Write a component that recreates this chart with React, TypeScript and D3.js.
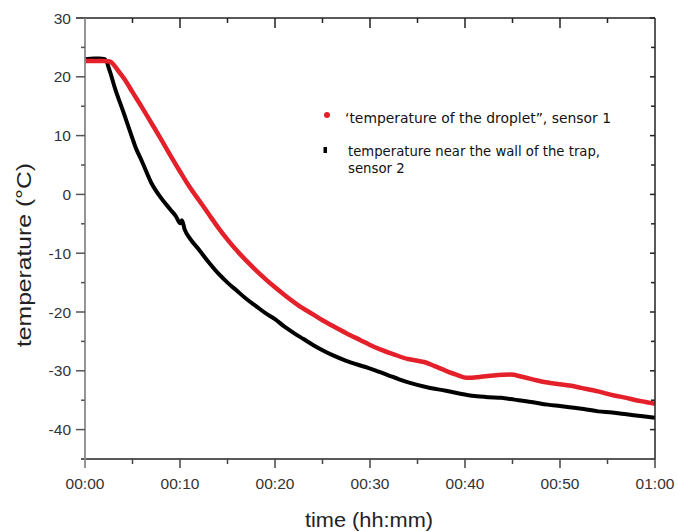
import React from "react";
import * as d3 from "d3";

// time in minutes, temperature in °C
const sensor1Time = [0, 1, 2, 2.6, 3, 3.5, 4.2, 5, 6, 7, 8, 9, 10, 11, 12, 13, 14, 15, 16, 17, 18, 19, 20, 21, 22.5, 24, 25, 26, 27.5, 29, 30, 31, 32.5, 34, 35, 35.7, 36.8, 38, 39, 40.3, 41.7, 43, 44.8, 46, 47.5, 48.7, 50, 51, 52.2, 54, 55.7, 57, 58, 59, 60];
const sensor1Temp = [22.7, 22.7, 22.7, 22.6, 22.1, 21.0, 19.5, 17.4, 14.8, 12.1, 9.4, 6.6, 3.9, 1.3, -1.0, -3.3, -5.6, -7.7, -9.6, -11.3, -12.9, -14.4, -15.8, -17.1, -18.9, -20.4, -21.4, -22.3, -23.6, -24.8, -25.6, -26.3, -27.2, -28.0, -28.3, -28.5, -29.2, -30.0, -30.6, -31.2, -31.0, -30.8, -30.65, -31.0, -31.6, -32.0, -32.3, -32.5, -32.9, -33.5, -34.2, -34.6, -35.0, -35.3, -35.6];

const sensor2Time = [0, 1, 1.5, 2.1, 2.6, 3.2, 4, 5, 5.3, 6, 7, 8, 9, 9.6, 10.0, 10.2, 10.5, 11, 12, 13, 14, 15, 16, 17, 18, 19, 20, 21, 22, 23, 24, 25, 26, 27.5, 29, 29.8, 31, 32, 33, 34.3, 36, 38, 39.5, 41, 42.5, 43.8, 45.2, 47, 48.7, 50, 51, 52.5, 54, 55.5, 57, 58.5, 60];
const sensor2Temp = [23.0, 23.1, 23.1, 23.0, 21.0, 17.8, 14.2, 9.5, 8.1, 5.6, 1.9, -0.6, -2.6, -3.8, -4.9, -4.4, -6.0, -7.4, -9.4, -11.5, -13.4, -15.0, -16.4, -17.8, -19.0, -20.2, -21.2, -22.5, -23.6, -24.6, -25.6, -26.5, -27.3, -28.3, -29.1, -29.5, -30.2, -30.8, -31.4, -32.1, -32.8, -33.4, -33.9, -34.3, -34.5, -34.6, -34.9, -35.3, -35.75, -36.0, -36.2, -36.5, -36.9, -37.1, -37.4, -37.7, -38.0];

const xTickValues = [0, 10, 20, 30, 40, 50, 60];
const xTickLabels = ["00:00", "00:10", "00:20", "00:30", "00:40", "00:50", "01:00"];
const xMinorTicks = [5, 15, 25, 35, 45, 55];
const yTickValues = [30, 20, 10, 0, -10, -20, -30, -40];
const yMinorTicks = [25, 15, 5, -5, -15, -25, -35];

const legendLabels = ["\u2018temperature of the droplet\u201d, sensor 1", "temperature near the wall of the trap,", "sensor 2"];

const W = 678;
const H = 532;
const left = 85;
const right = 655;
const top = 18;
const bottom = 459;

export default function App() {
  const x = d3.scaleLinear().domain([0, 60]).range([left, right]);
  const y = d3.scaleLinear().domain([-45, 30]).range([bottom, top]);

  const s1 = sensor1Time.map((t, i) => [t, sensor1Temp[i]] as [number, number]);
  const s2 = sensor2Time.map((t, i) => [t, sensor2Temp[i]] as [number, number]);
  const line = d3
    .line<[number, number]>()
    .x((d) => x(d[0]))
    .y((d) => y(d[1]))
    .curve(d3.curveMonotoneX);

  const labelColor = "#333";
  const font = "'Liberation Sans', Arial, sans-serif";
  const legendFont = "'DejaVu Sans', Verdana, sans-serif";

  return (
    <svg width={W} height={H} style={{ position: "absolute", left: 0, top: 0, background: "#fff" }}>
      <rect x={0} y={0} width={W} height={H} fill="#fff" />
      {/* data */}
      <path d={line(s2) || ""} fill="none" stroke="#000" strokeWidth={4} strokeLinejoin="round" />
      <path d={line(s1) || ""} fill="none" stroke="#e4202a" strokeWidth={4.5} strokeLinejoin="round" />

      {/* frame */}
      <line x1={left - 9} x2={right} y1={top} y2={top} stroke="#222" strokeWidth={1.5} />
      <line x1={right} x2={right} y1={top} y2={bottom} stroke="#222" strokeWidth={1.5} />
      <line x1={left - 4} x2={right} y1={bottom} y2={bottom} stroke="#222" strokeWidth={1.5} />
      <line x1={left} x2={left} y1={top} y2={bottom + 9} stroke="#8a8a8a" strokeWidth={1.8} />

      {/* y ticks */}
      {yTickValues.map((v) => (
        <g key={"y" + v}>
          <line x1={left - 9} x2={left} y1={y(v)} y2={y(v)} stroke="#555" strokeWidth={1.5} />
          <line x1={right - 5} x2={right} y1={y(v)} y2={y(v)} stroke="#222" strokeWidth={1.5} />
          <text x={71} y={y(v) + 5.5} textAnchor="end" fontSize={15.5} fill={labelColor} fontFamily={font}>
            {v}
          </text>
        </g>
      ))}
      {yMinorTicks.map((v) => (
        <g key={"ym" + v}>
          <line x1={left - 4} x2={left} y1={y(v)} y2={y(v)} stroke="#555" strokeWidth={1.5} />
          <line x1={right - 4} x2={right} y1={y(v)} y2={y(v)} stroke="#222" strokeWidth={1.5} />
        </g>
      ))}

      {/* x ticks */}
      {xTickValues.map((v, i) => (
        <g key={"x" + v}>
          {v !== 0 && <line x1={x(v)} x2={x(v)} y1={bottom} y2={bottom + 9} stroke="#444" strokeWidth={1.5} />}
          {v !== 0 && v !== 60 && <line x1={x(v)} x2={x(v)} y1={top} y2={top + 10} stroke="#222" strokeWidth={1.5} />}
          <text x={x(v)} y={489} textAnchor="middle" fontSize={15.5} fill={labelColor} fontFamily={font}>
            {xTickLabels[i]}
          </text>
        </g>
      ))}
      {xMinorTicks.map((v) => (
        <g key={"xm" + v}>
          <line x1={x(v)} x2={x(v)} y1={bottom} y2={bottom + 5} stroke="#444" strokeWidth={1.5} />
          <line x1={x(v)} x2={x(v)} y1={top} y2={top + 5} stroke="#222" strokeWidth={1.5} />
        </g>
      ))}

      {/* axis titles */}
      <text
        transform={`translate(31, 255) rotate(-90)`}
        textAnchor="middle"
        fontSize={21}
        fill="#222"
        fontFamily={font}
        textLength={184}
        lengthAdjust="spacingAndGlyphs"
      >
        temperature (°C)
      </text>
      <text
        x={369}
        y={527}
        textAnchor="middle"
        fontSize={20}
        fill="#222"
        fontFamily={font}
        textLength={128}
        lengthAdjust="spacingAndGlyphs"
      >
        time (hh:mm)
      </text>

      {/* legend */}
      <circle cx={327} cy={115} r={3} fill="#e4202a" />
      <text x={345} y={123} fontSize={13.3} fill="#111" fontFamily={legendFont} textLength={266} lengthAdjust="spacingAndGlyphs">
        {legendLabels[0]}
      </text>
      <rect x={323.5} y={147} width={3.5} height={6} fill="#000" />
      <text x={348} y={156} fontSize={13.3} fill="#111" fontFamily={legendFont} textLength={252} lengthAdjust="spacingAndGlyphs">
        {legendLabels[1]}
      </text>
      <text x={348} y={173} fontSize={13.3} fill="#111" fontFamily={legendFont}>
        {legendLabels[2]}
      </text>
    </svg>
  );
}
